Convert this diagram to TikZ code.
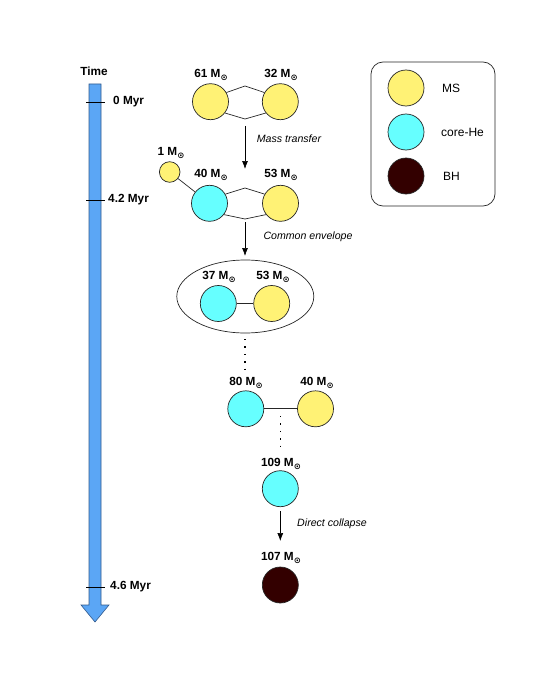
\documentclass[tikz,border=0pt]{standalone}
\usepackage{fontspec}
\setmainfont{Liberation Sans}
\newfontfamily\symfont{DejaVu Sans}
\usetikzlibrary{arrows.meta,shapes.geometric}
\definecolor{msc}{RGB}{255,242,117}
\definecolor{hec}{RGB}{102,255,255}
\definecolor{bhc}{RGB}{51,0,0}
\definecolor{tarrow}{RGB}{91,166,245}
\definecolor{tedge}{RGB}{50,90,140}
\tikzset{
 star/.style={circle,draw=black!85,line width=0.7pt,minimum size=36pt,inner sep=0pt},
 msstar/.style={star,fill=msc},
 hestar/.style={star,fill=hec},
 bhstar/.style={star,fill=bhc},
 mlabel/.style={font=\fontsize{11.8}{13}\selectfont\bfseries,inner sep=0pt},
 note/.style={font=\fontsize{10.6}{12}\selectfont\itshape,inner sep=0pt},
 legtext/.style={font=\fontsize{12}{13}\selectfont,inner sep=0pt,anchor=west},
 link/.style={line width=0.7pt,draw=black!85},
 flow/.style={-{Latex[length=8pt,width=6pt]},line width=0.7pt},
 dotline/.style={line width=1.4pt,dash pattern=on 1.4pt off 6pt},
 tick/.style={line width=0.7pt}
}
\newcommand{\msun}[1]{\textbf{#1 M}\raisebox{-2.2pt}{\fontsize{8.5}{9}\selectfont\symfont ⊙}}
\begin{document}
\begin{tikzpicture}[x=1pt,y=-1pt]
\useasboundingbox (0,0) rectangle (555,682);
% time arrow
\filldraw[fill=tarrow,draw=tedge,line width=0.6pt]
 (89,84) -- (101,84) -- (101,605) -- (109,605) -- (95,622) -- (81,605) -- (89,605) -- cycle;
\node[mlabel] (time) at (94,71) {Time};
\draw[tick] (86,102) -- (105,102);
\draw[tick] (86,200) -- (105,200);
\draw[tick] (86,587) -- (105,587);
\node[mlabel,anchor=west] (t0) at (113,102) {0 Myr};
\node[mlabel,anchor=west] (t1) at (108,200) {4.2 Myr};
\node[mlabel,anchor=west] (t2) at (110,587) {4.6 Myr};
% row 1
\node[msstar] (L1) at (210.5,101.7) {};
\node[msstar] (R1) at (280.3,101.7) {};
\node[mlabel] (lL1) at (211,75) {\msun{61}};
\node[mlabel] (lR1) at (281,75) {\msun{32}};
\coordinate (top1) at (245,86);
\coordinate (bot1) at (245,119);
\draw[link] (L1.30) -- (top1) -- (R1.150);
\draw[link] (L1.-38) -- (bot1) -- (R1.-142);
\coordinate (a1s) at (245,126);
\coordinate (a1e) at (245,169);
\draw[flow] (a1s) -- (a1e);
\node[note] (n1) at (289,139) {Mass transfer};
% row 2
\node[star,fill=msc,minimum size=20.6pt] (S) at (169.7,172) {};
\node[mlabel] (lS) at (171,153) {\msun{1}};
\node[hestar] (L2) at (209.5,203.3) {};
\node[msstar] (R2) at (280.5,203.3) {};
\node[mlabel] (lL2) at (211,175) {\msun{40}};
\node[mlabel] (lR2) at (281,175) {\msun{53}};
\draw[link] (S) -- (L2);
\coordinate (top2) at (245,188);
\coordinate (bot2) at (245,219);
\draw[link] (L2.30) -- (top2) -- (R2.150);
\draw[link] (L2.-38) -- (bot2) -- (R2.-142);
\coordinate (a2s) at (245,222);
\coordinate (a2e) at (245,256);
\draw[flow] (a2s) -- (a2e);
\node[note] (n2) at (308,237) {Common envelope};
% common envelope
\node[ellipse,draw=black!85,line width=0.7pt,minimum width=137pt,minimum height=73pt,inner sep=0pt] (env) at (245.3,296.5) {};
\node[hestar] (E1) at (218.3,303.5) {};
\node[msstar] (E2) at (271.7,303.5) {};
\node[mlabel] (lE1) at (219,277) {\msun{37}};
\node[mlabel] (lE2) at (273,277) {\msun{53}};
\draw[link] (E1) -- (E2);
\coordinate (d1s) at (245,339);
\coordinate (d1e) at (245,370);
\draw[dotline] (d1s) -- (d1e);
% row 4
\node[hestar] (F1) at (245.8,408.8) {};
\node[msstar] (F2) at (315.5,408.8) {};
\node[mlabel] (lF1) at (246,383) {\msun{80}};
\node[mlabel] (lF2) at (317,383) {\msun{40}};
\draw[link] (F1) -- (F2);
\coordinate (d2s) at (280.6,416);
\coordinate (d2e) at (280.6,450);
\draw[dotline] (d2s) -- (d2e);
% 109
\node[hestar] (G) at (280.3,488.7) {};
\node[mlabel] (lG) at (281,464) {\msun{109}};
\coordinate (a3s) at (280.3,511);
\coordinate (a3e) at (280.3,541);
\draw[flow] (a3s) -- (a3e);
\node[note] (n3) at (332,524) {Direct collapse};
% BH
\node[bhstar] (H) at (280.3,585) {};
\node[mlabel] (lH) at (281,558) {\msun{107}};
% legend
\draw[line width=0.7pt,draw=black!85,rounded corners=12pt] (371,62) rectangle (495,206);
\node[msstar] (K1) at (406,88) {};
\node[hestar] (K2) at (406,132) {};
\node[bhstar] (K3) at (406,176) {};
\node[legtext] (k1) at (442,88) {MS};
\node[legtext] (k2) at (441,132) {core-He};
\node[legtext] (k3) at (443,176) {BH};
\end{tikzpicture}
\end{document}
